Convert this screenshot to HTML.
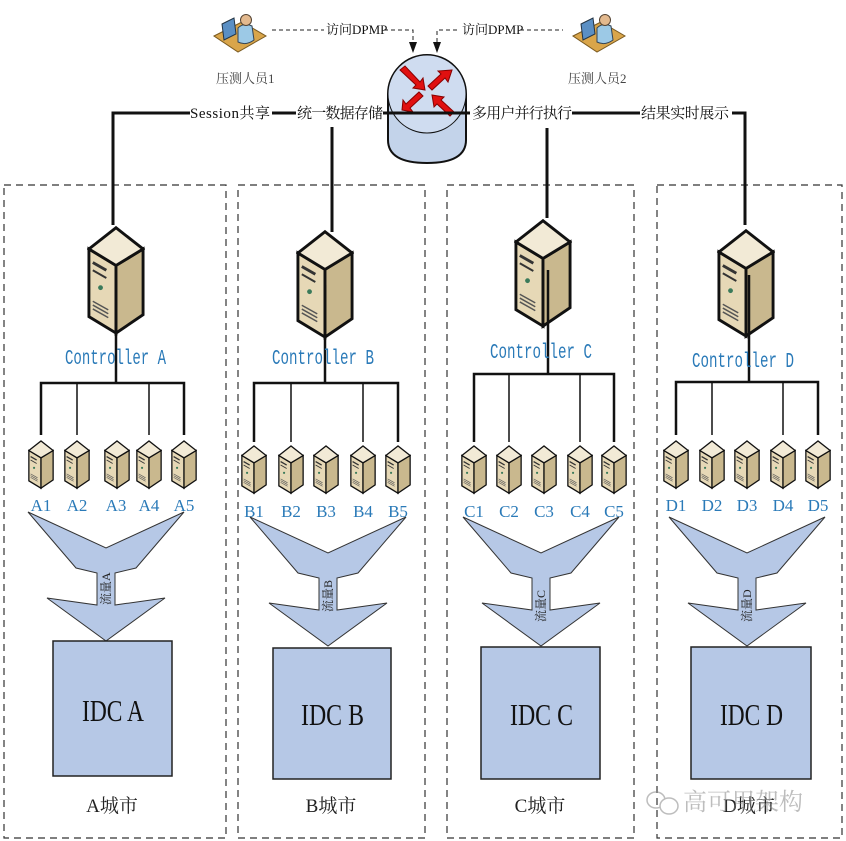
<!DOCTYPE html>
<html><head><meta charset="utf-8"><style>
html,body{margin:0;padding:0;background:#fff;}
svg{display:block;}
text{font-family:"Liberation Serif","Noto Serif CJK SC","Noto Sans CJK SC",serif;}
.cl{font-family:"Liberation Mono","Noto Sans CJK SC",monospace;fill:#2a7ab8;font-size:21px;}
.sl{font-family:"Liberation Serif",serif;fill:#2a7ab8;font-size:17px;}
</style></head><body>
<svg width="846" height="841" viewBox="0 0 846 841" xmlns="http://www.w3.org/2000/svg">
<defs>
<symbol id="srv" viewBox="0 0 60 120">
<polygon points="2,30 30,47 30,117 2,100" fill="#e6d8b6" stroke="#111" stroke-width="3"/>
<polygon points="30,47 58,30 58,98 30,117" fill="#c9b88e" stroke="#111" stroke-width="3"/>
<polygon points="2,30 30,8 58,30 30,47" fill="#f2ead6" stroke="#111" stroke-width="3"/>
<line x1="6" y1="44" x2="20" y2="52" stroke="#333" stroke-width="3"/>
<line x1="6" y1="52" x2="20" y2="60" stroke="#333" stroke-width="2"/>
<circle cx="14" cy="70" r="2.5" fill="#3a7a5a"/>
<line x1="6" y1="84" x2="22" y2="93" stroke="#555" stroke-width="1.5"/>
<line x1="6" y1="88" x2="22" y2="97" stroke="#555" stroke-width="1.5"/>
<line x1="6" y1="92" x2="22" y2="101" stroke="#555" stroke-width="1.5"/>
</symbol>
<symbol id="person" viewBox="0 0 56 44">
<polygon points="2,26 30,12 54,26 26,42" fill="#d9a54a" stroke="#7a5a20" stroke-width="1"/>
<polygon points="10,14 22,8 24,24 12,30" fill="#5a8fc4" stroke="#234" stroke-width="1"/>
<path d="M26,18 q6,-6 14,-2 l2,14 q-8,6 -16,2z" fill="#9cc9e6" stroke="#345" stroke-width="1"/>
<circle cx="34" cy="10" r="5.5" fill="#e3b98e" stroke="#543" stroke-width="1"/>
</symbol>
</defs>

<g fill="none" stroke="#333" stroke-width="1.2" stroke-dasharray="7,5">
<rect x="4" y="185" width="222" height="653"/>
<rect x="238" y="185" width="187" height="653"/>
<rect x="447" y="185" width="187" height="653"/>
<rect x="657" y="185" width="185" height="653"/>
</g>

<use href="#person" x="212" y="10" width="56" height="44"/>
<use href="#person" x="571" y="10" width="56" height="44"/>
<text x="216" y="83" font-size="13" fill="#444">压测人员1</text>
<text x="568" y="83" font-size="13" fill="#444">压测人员2</text>
<g stroke="#222" stroke-width="1" stroke-dasharray="4,3" fill="none">
<path d="M272,30 H324"/><path d="M384,30 H413 V42"/>
<path d="M437,42 V30 H460"/><path d="M520,30 H563"/>
</g>
<text x="326" y="34" font-size="13" fill="#111">访问DPMP</text>
<text x="462" y="34" font-size="13" fill="#111">访问DPMP</text>
<polygon points="409,42 417,42 413,53" fill="#111"/>
<polygon points="433,42 441,42 437,53" fill="#111"/>

<path d="M388,94 A39,39 0 0 1 466,94 V140 Q466,163 427,163 Q388,163 388,140 Z" fill="#c3d3ea" stroke="#111" stroke-width="2"/>
<circle cx="427" cy="94" r="39" fill="#cfdcf0" stroke="#111" stroke-width="1"/>
<g fill="#e01010" stroke="#800" stroke-width="1">
<polygon points="400,70 405,66 420,82 423,78 425,90 413,88 416,85"/>
<polygon points="452,70 438,71 441,74 428,86 432,90 445,78 448,82"/>
<polygon points="402,110 413,112 410,108 423,96 419,92 406,104 403,100"/>
<polygon points="454,112 441,100 444,97 432,95 434,107 437,104 450,116"/>
</g>

<g stroke="#111" stroke-width="3" fill="none">
<path d="M113,225 V113 H190"/>
<path d="M272,113 H296"/>
<path d="M383,113 H470"/>
<path d="M572,113 H640"/>
<path d="M732,113 H745 V225"/>
<path d="M332,127 V232"/>
<path d="M547,128 V218"/>
</g>
<g font-size="15" fill="#111">
<text x="190" y="118" textLength="80">Session共享</text>
<text x="297" y="118" textLength="86">统一数据存储</text>
<text x="472" y="118" textLength="100">多用户并行执行</text>
<text x="641" y="118" textLength="88">结果实时展示</text>
</g>

<use href="#srv" x="87" y="220" width="58" height="116"/>
<use href="#srv" x="296" y="224" width="58" height="116"/>
<use href="#srv" x="514" y="213" width="58" height="116"/>
<use href="#srv" x="717" y="223" width="58" height="116"/>
<g stroke="#111" stroke-width="2.5" fill="none">
<path d="M116,280 V383"/><path d="M41,435 V383 H184 V435"/>
<path d="M325,285 V383"/><path d="M254,442 V383 H398 V442"/>
<path d="M548,270 V374"/><path d="M474,442 V374 H614 V442"/>
<path d="M749,275 V382"/><path d="M676,435 V382 H818 V435"/>
</g>
<g stroke="#111" stroke-width="1.5">
<path d="M77,383V435M149,383V435"/>
<path d="M291,383V442M363,383V442"/>
<path d="M509,374V442M580,374V442"/>
<path d="M712,382V435M783,382V435"/>
</g>
<text class="cl" x="65" y="364" textLength="101" lengthAdjust="spacingAndGlyphs">Controller A</text>
<text class="cl" x="272" y="364" textLength="102" lengthAdjust="spacingAndGlyphs">Controller B</text>
<text class="cl" x="490" y="358" textLength="102" lengthAdjust="spacingAndGlyphs">Controller C</text>
<text class="cl" x="692" y="367" textLength="102" lengthAdjust="spacingAndGlyphs">Controller D</text>

<g>
<use href="#srv" x="28" y="436" width="26" height="55"/><use href="#srv" x="64" y="436" width="26" height="55"/><use href="#srv" x="104" y="436" width="26" height="55"/><use href="#srv" x="136" y="436" width="26" height="55"/><use href="#srv" x="171" y="436" width="26" height="55"/>
<use href="#srv" x="241" y="441" width="26" height="55"/><use href="#srv" x="278" y="441" width="26" height="55"/><use href="#srv" x="313" y="441" width="26" height="55"/><use href="#srv" x="350" y="441" width="26" height="55"/><use href="#srv" x="385" y="441" width="26" height="55"/>
<use href="#srv" x="461" y="441" width="26" height="55"/><use href="#srv" x="496" y="441" width="26" height="55"/><use href="#srv" x="531" y="441" width="26" height="55"/><use href="#srv" x="567" y="441" width="26" height="55"/><use href="#srv" x="601" y="441" width="26" height="55"/>
<use href="#srv" x="663" y="436" width="26" height="55"/><use href="#srv" x="699" y="436" width="26" height="55"/><use href="#srv" x="734" y="436" width="26" height="55"/><use href="#srv" x="770" y="436" width="26" height="55"/><use href="#srv" x="805" y="436" width="26" height="55"/>
</g>
<g text-anchor="middle">
<text class="sl" x="41" y="511">A1</text><text class="sl" x="77" y="511">A2</text><text class="sl" x="116" y="511">A3</text><text class="sl" x="149" y="511">A4</text><text class="sl" x="184" y="511">A5</text>
<text class="sl" x="254" y="517">B1</text><text class="sl" x="291" y="517">B2</text><text class="sl" x="326" y="517">B3</text><text class="sl" x="363" y="517">B4</text><text class="sl" x="398" y="517">B5</text>
<text class="sl" x="474" y="517">C1</text><text class="sl" x="509" y="517">C2</text><text class="sl" x="544" y="517">C3</text><text class="sl" x="580" y="517">C4</text><text class="sl" x="614" y="517">C5</text>
<text class="sl" x="676" y="511">D1</text><text class="sl" x="712" y="511">D2</text><text class="sl" x="747" y="511">D3</text><text class="sl" x="783" y="511">D4</text><text class="sl" x="818" y="511">D5</text>
</g>

<g fill="#b6c8e6" stroke="#333" stroke-width="1">
<polygon transform="translate(106,512)" points="-78,0 0,36 78,0 30,56 9,61 9,93 59,86 0,129 -59,86 -9,93 -9,61 -30,56"/>
<polygon transform="translate(328,517)" points="-78,0 0,36 78,0 30,56 9,61 9,93 59,86 0,129 -59,86 -9,93 -9,61 -30,56"/>
<polygon transform="translate(541,517)" points="-78,0 0,36 78,0 30,56 9,61 9,93 59,86 0,129 -59,86 -9,93 -9,61 -30,56"/>
<polygon transform="translate(747,517)" points="-78,0 0,36 78,0 30,56 9,61 9,93 59,86 0,129 -59,86 -9,93 -9,61 -30,56"/>
</g>
<g font-size="12" fill="#222">
<text transform="translate(110,605) rotate(-90)">流量A</text>
<text transform="translate(332,612) rotate(-90)">流量B</text>
<text transform="translate(545,622) rotate(-90)">流量C</text>
<text transform="translate(751,622) rotate(-90)">流量D</text>
</g>

<g fill="#b6c8e6" stroke="#222" stroke-width="1.5">
<rect x="53" y="641" width="119" height="135"/>
<rect x="273" y="648" width="118" height="131"/>
<rect x="481" y="647" width="119" height="132"/>
<rect x="691" y="647" width="120" height="132"/>
</g>
<g font-size="31" fill="#111">
<text x="82" y="721" textLength="62" lengthAdjust="spacingAndGlyphs">IDC A</text>
<text x="301" y="725" textLength="63" lengthAdjust="spacingAndGlyphs">IDC B</text>
<text x="510" y="725" textLength="63" lengthAdjust="spacingAndGlyphs">IDC C</text>
<text x="720" y="725" textLength="63" lengthAdjust="spacingAndGlyphs">IDC D</text>
</g>
<g font-size="19" fill="#222" text-anchor="middle">
<text x="112" y="812">A城市</text>
<text x="331" y="812">B城市</text>
<text x="540" y="812">C城市</text>
<text x="749" y="812">D城市</text>
</g>
<g opacity="0.55">
<ellipse cx="656" cy="800" rx="9" ry="8" fill="none" stroke="#888" stroke-width="1.5"/>
<ellipse cx="669" cy="806" rx="9" ry="8" fill="#fff" stroke="#888" stroke-width="1.5"/>
<text x="683" y="810" font-size="24" fill="#888" font-family="Noto Sans CJK SC,sans-serif">高可用架构</text>
</g>
</svg>
</body></html>
